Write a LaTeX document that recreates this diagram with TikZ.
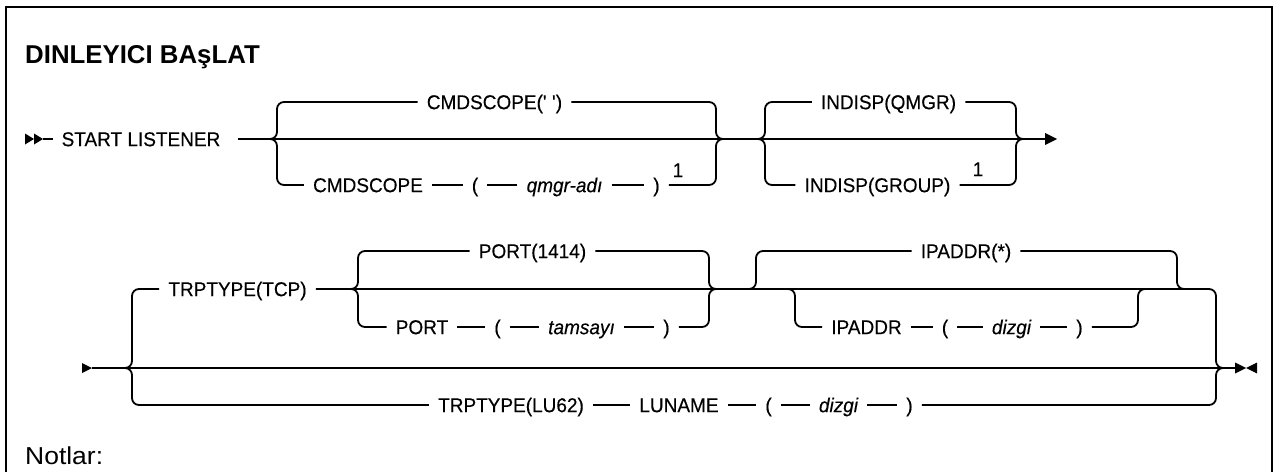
\documentclass[tikz,border=0pt]{standalone}
\usepackage{fontspec}
\setmainfont{Liberation Sans}
\newfontfamily\lbfam{Liberation Sans}[FakeStretch=0.95, FakeBold=0.3]
\newfontfamily\notefam{Liberation Sans}[FakeStretch=1.08]
\newcommand\lbfont{\lbfam\fontsize{20}{20}\selectfont}
\begin{document}
\begin{tikzpicture}[x=1pt,y=-1pt,
  lbl/.style={font=\lbfont, inner ysep=0pt, inner xsep=9pt, text height=14.3pt, text depth=0pt},
  itl/.style={lbl, font=\lbfont\itshape},
  conn/.style={line width=1.8pt},
  rr/.style={line width=1.8pt, rounded corners=7pt},
  tip/.style={fill=black}]
\useasboundingbox (0,0) rectangle (1276,472);
% frame
\draw[line width=2pt] (6,472) -- (6,7) -- (1272,7) -- (1272,472);
\node[font=\bfseries\fontsize{25.8}{25.8}\selectfont, anchor=base west, inner sep=0pt] (title) at (25,63) {DINLEYICI BAşLAT};
\node[font=\notefam\fontsize{24.5}{24.5}\selectfont, anchor=base west, inner sep=0pt] (notes) at (25,464) {Notlar:};

% ---------------- row 1 ----------------
\coordinate (a1) at (43,139);
\coordinate (a1e) at (53,139);
\coordinate (m1s) at (238,139);
\coordinate (m1e) at (1045,139);
\fill[tip] (25,133.5) -- (34,139) -- (25,144.5) -- cycle;
\fill[tip] (34,133.5) -- (43,139) -- (34,144.5) -- cycle;
\draw[conn] (a1) -- (a1e);
\node[lbl] (start) at (141,139) {START LISTENER};
\draw[conn] (m1s) -- (m1e);
\fill[tip] (m1e) -- (1045,133) -- (1057,139) -- (1045,145) -- cycle;

\node[lbl] (cs1) at (494.5,102) {CMDSCOPE(\textquotesingle\ \textquotesingle)};
\node[lbl] (cs2) at (368,185) {CMDSCOPE};
\node[lbl] (lp1) at (475,185) {(};
\node[itl] (qm) at (564.5,185) {qmgr-adı};
\node[lbl] (rp1) at (656.5,185) {)};
\node[lbl] (sup1) at (678,170) {1};
\node[lbl] (iq) at (888.5,102) {INDISP(QMGR)};
\node[lbl] (ig) at (877.5,185) {INDISP(GROUP)};
\node[lbl] (sup2) at (978,169) {1};

\coordinate (f1) at (263,139);
\coordinate (j1) at (730,139);
\coordinate (f2) at (751,139);
\coordinate (j2) at (1030,139);
\draw[rr] (f1) -| (277,102) -- (cs1.west);
\draw[rr] (f1) -| (277,185) -- (cs2.west);
\draw[conn] (cs2.east) -- (lp1.west);
\draw[conn] (lp1.east) -- (qm.west);
\draw[conn] (qm.east) -- (rp1.west);
\draw[rr] (cs1.east) -| (716,139) -- (j1);
\draw[rr] (rp1.east) -| (716,139) -- (j1);
\draw[rr] (f2) -| (765,102) -- (iq.west);
\draw[rr] (f2) -| (765,185) -- (ig.west);
\draw[rr] (iq.east) -| (1016,139) -- (j2);
\draw[rr] (ig.east) -| (1016,139) -- (j2);

% ---------------- row 2 ----------------
\coordinate (m2s) at (92,368);
\coordinate (m2e) at (1235,368);
\fill[tip] (82,363) -- (92,368) -- (82,373) -- cycle;
\draw[conn] (m2s) -- (m2e);
\fill[tip] (1235,362.5) -- (1246,368) -- (1235,373.5) -- cycle;
\fill[tip] (1257,362.5) -- (1246,368) -- (1257,373.5) -- cycle;

\node[lbl] (tcp) at (237.5,289) {TRPTYPE(TCP)};
\node[lbl] (p1) at (532.5,251) {PORT(1414)};
\node[lbl] (p2) at (422,327) {PORT};
\node[lbl] (lp2) at (497.5,327) {(};
\node[itl] (ts) at (581.5,327) {tamsayı};
\node[lbl] (rp2) at (666.5,327) {)};
\node[lbl] (ip1) at (966,251) {IPADDR(*)};
\node[lbl] (ip2) at (866.5,327) {IPADDR};
\node[lbl] (lp3) at (945,327) {(};
\node[itl] (dz1) at (1011.5,327) {dizgi};
\node[lbl] (rp3) at (1079.5,327) {)};
\node[lbl] (lu) at (511,405) {TRPTYPE(LU62)};
\node[lbl] (ln) at (679,405) {LUNAME};
\node[lbl] (lp4) at (768.5,405) {(};
\node[itl] (dz2) at (838.5,405) {dizgi};
\node[lbl] (rp4) at (909.5,405) {)};

\coordinate (g0) at (118,368);
\coordinate (g0j) at (1230,368);
\draw[rr] (g0) -| (132,289) -- (tcp.west);
\draw[rr] (g0) -| (132,405) -- (lu.west);
\draw[rr] (tcp.east) -| (1216,368) -- (g0j);
\draw[conn] (lu.east) -- (ln.west);
\draw[conn] (ln.east) -- (lp4.west);
\draw[conn] (lp4.east) -- (dz2.west);
\draw[conn] (dz2.east) -- (rp4.west);
\draw[rr] (rp4.east) -| (1216,368) -- (g0j);

% PORT
\coordinate (g1) at (344,289);
\coordinate (g1j) at (723,289);
\draw[rr] (g1) -| (358,251) -- (p1.west);
\draw[rr] (g1) -| (358,327) -- (p2.west);
\draw[conn] (p2.east) -- (lp2.west);
\draw[conn] (lp2.east) -- (ts.west);
\draw[conn] (ts.east) -- (rp2.west);
\draw[rr] (p1.east) -| (709,289) -- (g1j);
\draw[rr] (rp2.east) -| (709,289) -- (g1j);

% IPADDR
\coordinate (g2) at (742,289);
\coordinate (g2j) at (1191,289);
\coordinate (g3) at (781,289);
\coordinate (g3j) at (1152,289);
\draw[rr] (g2) -| (756,251) -- (ip1.west);
\draw[rr] (ip1.east) -| (1177,289) -- (g2j);
\draw[rr] (g3) -| (795,327) -- (ip2.west);
\draw[conn] (ip2.east) -- (lp3.west);
\draw[conn] (lp3.east) -- (dz1.west);
\draw[conn] (dz1.east) -- (rp3.west);
\draw[rr] (rp3.east) -| (1138,289) -- (g3j);
\end{tikzpicture}
\end{document}
